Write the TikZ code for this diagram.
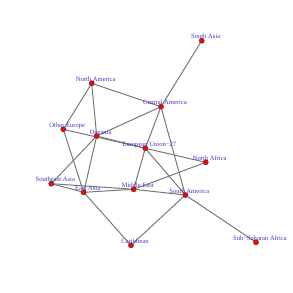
\documentclass[tikz,border=0pt]{standalone}
\usepackage{fontspec}
\setmainfont{Liberation Serif}
\usepackage{xcolor}
\usetikzlibrary{backgrounds}
\definecolor{vlab}{HTML}{4B32C3}
\definecolor{vfill}{HTML}{FF0000}
\definecolor{egray}{HTML}{787878}
\tikzset{
  vtx/.style={circle, draw=black!80, fill=vfill, line width=0.4pt, inner sep=0pt, minimum size=5.2pt,
              label={[vlabel]above:#1}},
  vlabel/.style={font=\fontsize{6.6}{7}\selectfont, text=vlab, inner sep=0pt, text depth=0pt,
                 xshift=4pt, label distance=-1.2pt},
  edge/.style={draw=egray, line width=1pt},
}
\begin{document}
\begin{tikzpicture}[x=1pt, y=-1pt]
  \useasboundingbox (0,0) rectangle (293,293);
  \node[vtx=South Asia] (sasia) at (201.7,40.7) {};
  \node[vtx=North America] (namer) at (91.7,83.3) {};
  \node[vtx=Central America] (camer) at (161,106.7) {};
  \node[vtx=Other Europe] (oeur) at (63.3,129.3) {};
  \node[vtx=Oceania] (ocea) at (96.7,136) {};
  \node[vtx={European Union−27}] (eu) at (145.3,148.3) {};
  \node[vtx=North Africa] (nafr) at (205.7,162.3) {};
  \node[vtx=Southeast Asia] (seasia) at (51.3,183.7) {};
  \node[vtx=East Asia] (easia) at (83.7,192.3) {};
  \node[vtx=Middle East] (meast) at (133.7,189.3) {};
  \node[vtx=South America] (samer) at (185.3,195) {};
  \node[vtx=Caribbean] (carib) at (131,245.3) {};
  \node[vtx={Sub−Saharan Africa}] (ssafr) at (256,242.3) {};
  \begin{scope}[on background layer]
    \draw[edge] (sasia) -- (camer);
    \draw[edge] (namer) -- (camer);
    \draw[edge] (namer) -- (oeur);
    \draw[edge] (namer) -- (ocea);
    \draw[edge] (oeur) -- (eu);
    \draw[edge] (oeur) -- (easia);
    \draw[edge] (ocea) -- (camer);
    \draw[edge] (ocea) -- (eu);
    \draw[edge] (ocea) -- (seasia);
    \draw[edge] (ocea) -- (easia);
    \draw[edge] (camer) -- (eu);
    \draw[edge] (camer) -- (samer);
    \draw[edge] (eu) -- (nafr);
    \draw[edge] (eu) -- (meast);
    \draw[edge] (eu) -- (samer);
    \draw[edge] (nafr) -- (meast);
    \draw[edge] (seasia) -- (easia);
    \draw[edge] (seasia) -- (meast);
    \draw[edge] (easia) -- (meast);
    \draw[edge] (easia) -- (carib);
    \draw[edge] (meast) -- (samer);
    \draw[edge] (carib) -- (samer);
    \draw[edge] (samer) -- (ssafr);
  \end{scope}
\end{tikzpicture}
\end{document}
